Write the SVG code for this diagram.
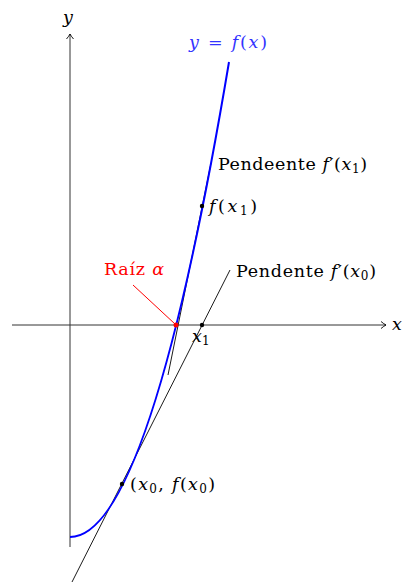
<svg xmlns="http://www.w3.org/2000/svg" width="403" height="586" viewBox="0 0 403 586">
<defs>
<style>
.ax{stroke:#333;stroke-width:1;fill:none}
.tg{stroke:#000;stroke-width:0.9;fill:none}
.t{font-family:"DejaVu Serif","Liberation Serif",serif;font-size:17.5px;fill:#000}
.i{font-style:italic}
.s{font-size:12px}
</style>
<marker id="ar" markerWidth="10" markerHeight="10" refX="7" refY="5" orient="auto" markerUnits="userSpaceOnUse">
<path d="M2,1.5 Q5,4 7,5 Q5,6 2,8.5" fill="none" stroke="#000" stroke-width="0.9"/>
</marker>
</defs>
<g id="connectors">
<line class="ax" x1="12" y1="325" x2="386" y2="325" marker-end="url(#ar)"/>
<line class="ax" x1="70" y1="547" x2="70" y2="34" marker-end="url(#ar)"/>
<line class="tg" x1="72" y1="582" x2="230" y2="270"/>
<line class="tg" x1="168" y1="375" x2="211" y2="163"/>
<path d="M70,537 Q149.5,537 229,62" fill="none" stroke="#0000ff" stroke-width="2"/>
<line x1="133" y1="285" x2="175" y2="324" stroke="#ff0000" stroke-width="1"/>
</g>
<g id="root"><circle cx="176" cy="325" r="2.5" fill="#ff0000"/></g>
<g id="x1pt"><circle cx="202" cy="325" r="2.2" fill="#000"/></g>
<g id="fx1pt"><circle cx="202" cy="206" r="2.2" fill="#000"/></g>
<g id="x0pt"><circle cx="122" cy="484" r="2.2" fill="#000"/></g>
<g id="labels">
<text class="t i" x="63" y="23">y</text>
<text class="t i" x="392" y="330">x</text>
<text class="t" x="189" y="48" textLength="78" style="fill:#3333ff"><tspan font-style="italic">y</tspan> = <tspan font-style="italic">f</tspan>(<tspan font-style="italic">x</tspan>)</text>
<text class="t" x="218" y="170" textLength="149">Pendeente <tspan font-style="italic">f</tspan>′(<tspan font-style="italic">x</tspan><tspan class="s" dy="3">1</tspan><tspan dy="-3">)</tspan></text>
<text class="t" x="209" y="212" textLength="48"><tspan font-style="italic">f</tspan>(<tspan font-style="italic">x</tspan><tspan class="s" dy="3">1</tspan><tspan dy="-3">)</tspan></text>
<text class="t" x="236" y="277" textLength="140">Pendente <tspan font-style="italic">f</tspan>′(<tspan font-style="italic">x</tspan><tspan class="s" dy="3">0</tspan><tspan dy="-3">)</tspan></text>
<text class="t" x="104" y="275" textLength="60" style="fill:#ff0000">Raíz <tspan font-style="italic">α</tspan></text>
<text class="t" x="192" y="342"><tspan font-style="italic">x</tspan><tspan class="s" dy="3">1</tspan></text>
<text class="t" x="130" y="490" textLength="85">(<tspan font-style="italic">x</tspan><tspan class="s" dy="3">0</tspan><tspan dy="-3">, </tspan><tspan font-style="italic">f</tspan>(<tspan font-style="italic">x</tspan><tspan class="s" dy="3">0</tspan><tspan dy="-3">)</tspan></text>
</g>
</svg>
